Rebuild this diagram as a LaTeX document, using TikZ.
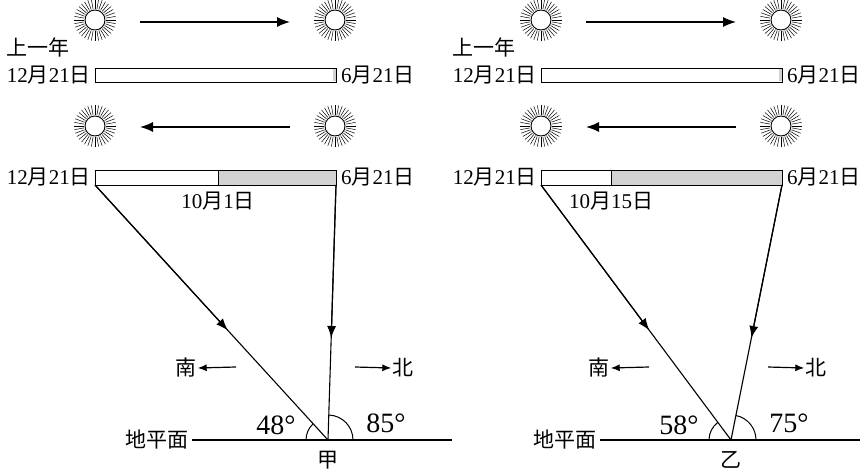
\documentclass[tikz,border=0pt]{standalone}
\usepackage{fontspec}
\setmainfont{Liberation Serif}
\newfontfamily\cjk{Noto Sans CJK SC}
\usetikzlibrary{arrows.meta, positioning, calc}
\newcommand{\cn}[1]{{\cjk #1}}
\tikzset{
  lbl/.style={font=\fontsize{21}{23}\selectfont, inner sep=1pt},
  deg/.style={font=\fontsize{28}{30}\selectfont, inner sep=1pt},
  bar/.style={draw, line width=1pt},
  ray/.style={line width=1.2pt, -{Latex[length=12pt, width=9pt]}},
  move/.style={line width=1.4pt, -{Latex[length=13pt, width=10pt]}},
  small/.style={line width=1.2pt, -{Latex[length=9pt, width=7pt]}},
  sun/.pic={
    \draw[line width=0.9pt] (0,0) circle (10);
    \foreach \a in {0,10,...,359} \draw[line width=0.5pt] (\a:11) -- (\a:21);
  }
}
\begin{document}
\begin{tikzpicture}[x=1pt, y=-1pt]
\useasboundingbox (0,0) rectangle (868,474);
% two panels
\foreach \ox/\gx/\mx/\mlabel/\ang/\bng/\site/\aL/\aR/\gbeg/\gend/\dx in
  {0/218/328/10\cn{月}1\cn{日}/48/85/\cn{甲}/47.6/88.2/192/452/0,
   446/611/731/10\cn{月}15\cn{日}/58/75/\cn{乙}/53.3/78.7/154/414/-33}{
  \begin{scope}[xshift=\ox pt]
  \pic at (95,20) {sun};
  \pic at (335,20) {sun};
  \pic at (95,126) {sun};
  \pic at (335,126) {sun};
  \draw[move] (140,22) -- (290,22);
  \draw[move] (290,127) -- (140,127);
  \node[lbl] (prev) at (38,47) {\cn{上一年}};
  % upper bar
  \draw[bar, fill=white] (95,68) rectangle (336,82);
  \fill[gray!35] (333,69) rectangle (335.5,81);
  \node[lbl, anchor=east] (w1) at (92,75) {12\cn{月}21\cn{日}};
  \node[lbl, anchor=west] (s1) at (340,75) {6\cn{月}21\cn{日}};
  % lower bar
  \coordinate (bl) at (95,185);
  \fill[gray!35] (\gx-\ox,170) rectangle (336,185);
  \draw[bar] (95,170) rectangle (336,185);
  \draw[line width=1pt] (\gx-\ox,170) -- (\gx-\ox,185);
  \coordinate (br) at (336,185);
  \node[lbl, anchor=east] (w2) at (92,177) {12\cn{月}21\cn{日}};
  \node[lbl, anchor=west] (s2) at (340,177) {6\cn{月}21\cn{日}};
  \node[lbl] (mid) at (\gx-\ox,201) {\mlabel};
  % ground and rays
  \coordinate (o) at (\mx-\ox,440);
  \coordinate (g1) at (\gbeg,440);
  \coordinate (g2) at (\gend,440);
  \draw[line width=1.3pt] (g1) -- (g2);
  \draw[line width=1.1pt] (bl) -- (o);
  \draw[line width=1.1pt] (br) -- (o);
  \draw[ray] (bl) -- ($(bl)!0.57!(o)$);
  \draw[ray] (br) -- ($(br)!0.6!(o)$);
  \draw[line width=1pt] (o) ++(180:22) arc[start angle=180, end angle=180+\aL, radius=22];
  \draw[line width=1pt] (o) ++(0:25) arc[start angle=0, end angle=-\aR, radius=25];
  \node[deg] (a1) at ($(o)+(-52,-15)$) {\ang°};
  \node[deg] (a2) at ($(o)+(58,-17)$) {\bng°};
  \node[lbl, anchor=east] (plane) at ($(g1)+(-2,0)$) {\cn{地平面}};
  \node[lbl] (st) at ($(o)+(0,20)$) {\site};
  % directions
  \node[lbl] (south) at (186+\dx,368) {\cn{南}};
  \node[lbl] (north) at (403+\dx,368) {\cn{北}};
  \draw[small] (236+\dx,367) -- (south.east);
  \draw[small] (355+\dx,367) -- (north.west);
  \end{scope}
}
\end{tikzpicture}
\end{document}
